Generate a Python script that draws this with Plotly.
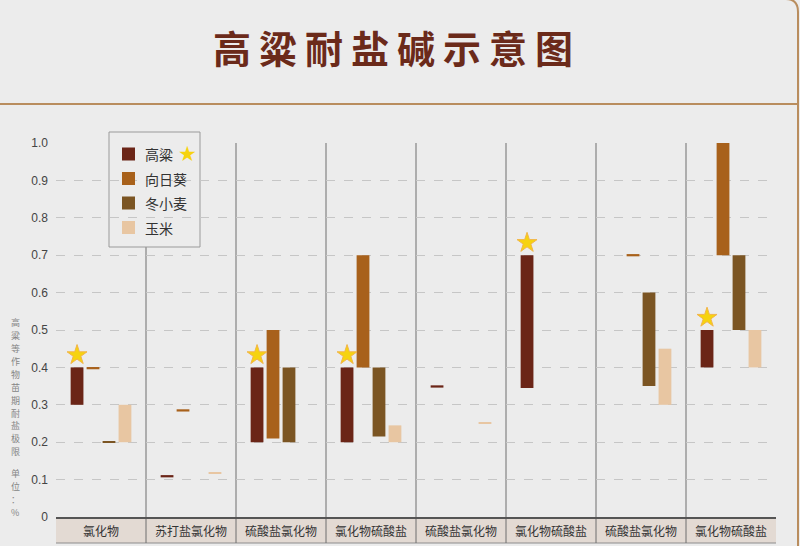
import plotly.graph_objects as go

# ---------------- data ----------------
categories = ["氯化物", "苏打盐氯化物", "硫酸盐氯化物", "氯化物硫酸盐",
              "硫酸盐氯化物", "氯化物硫酸盐", "硫酸盐氯化物", "氯化物硫酸盐"]
series_names = ["高粱", "向日葵", "冬小麦", "玉米"]

sorghum_low = [0.30, 0.106, 0.20, 0.20, 0.346, 0.345, None, 0.40]
sorghum_high = [0.40, 0.112, 0.40, 0.40, 0.352, 0.70, None, 0.50]
sunflower_low = [0.395, 0.282, 0.21, 0.40, None, None, 0.697, 0.70]
sunflower_high = [0.401, 0.288, 0.50, 0.70, None, None, 0.703, 1.00]
wheat_low = [0.198, None, 0.20, 0.215, None, None, 0.35, 0.50]
wheat_high = [0.203, None, 0.40, 0.40, None, None, 0.60, 0.70]
corn_low = [0.20, 0.115, None, 0.20, 0.249, None, 0.30, 0.40]
corn_high = [0.30, 0.120, None, 0.245, 0.254, None, 0.45, 0.50]

star_categories = [0, 2, 3, 5, 7]   # sorghum bars marked with a star

y_tickvals = [0, 0.1, 0.2, 0.3, 0.4, 0.5, 0.6, 0.7, 0.8, 0.9, 1.0]
y_ticktext = ["0", "0.1", "0.2", "0.3", "0.4", "0.5", "0.6", "0.7", "0.8", "0.9", "1.0"]

title_text = "高粱耐盐碱示意图"
ylabel_main = "高粱等作物苗期耐盐极限"
ylabel_unit = "单位：%"

# ---------------- style ----------------
colors = ["#6b2517", "#a8611b", "#7b5523", "#e8c6a2"]
BG = "#ececec"
TAN = "#b98d5e"
BARGAP = 0.29
GROUPGAP = 0.2

W, H = 800, 546
L, R, T, B = 56, 24, 143, 29
PW, PH = W - L - R, H - T - B


def px(xp):
    return (xp - L) / PW


def py(yp):
    return (H - B - yp) / PH


def span(lo, hi):
    return [None if a is None else round(b - a, 4) for a, b in zip(lo, hi)]


lows = [sorghum_low, sunflower_low, wheat_low, corn_low]
highs = [sorghum_high, sunflower_high, wheat_high, corn_high]
xs = list(range(len(categories)))

fig = go.Figure()
for name, lo, hi, col in zip(series_names, lows, highs, colors):
    fig.add_trace(go.Bar(
        name=name, x=xs, y=span(lo, hi), base=lo,
        marker=dict(color=col, line=dict(width=0)),
        showlegend=False,
    ))

# stars above selected sorghum bars
slot = (1 - BARGAP) / len(series_names)
star_x = [i - 1.5 * slot for i in star_categories]
star_y = [sorghum_high[i] + 0.033 for i in star_categories]
fig.add_trace(go.Scatter(
    x=star_x, y=star_y, mode="markers", showlegend=False, hoverinfo="skip",
    marker=dict(symbol="star", size=15, color="#f6d30f",
                line=dict(color="#f2b548", width=1)),
))

shapes = [
    # category label band
    dict(type="rect", xref="paper", yref="paper", x0=0, x1=1, y0=py(543), y1=0,
         fillcolor="#e3dad3", line=dict(width=0), layer="below"),
    dict(type="line", xref="paper", yref="paper", x0=0, x1=1, y0=py(543), y1=py(543),
         line=dict(color="#8c8c8c", width=1), layer="below"),
    # header rule
    dict(type="line", xref="paper", yref="paper", x0=px(0), x1=px(798), y0=py(104), y1=py(104),
         line=dict(color=TAN, width=2)),
    # right frame with rounded corner
    dict(type="path", xref="paper", yref="paper",
         path=f"M {px(786)},{py(-1)} Q {px(798)},{py(-1)} {px(798)},{py(12)} L {px(798)},{py(548)}",
         line=dict(color=TAN, width=2)),
]
for k in range(1, len(categories)):
    shapes.append(dict(type="line", xref="x", yref="paper", x0=k - 0.5, x1=k - 0.5,
                       y0=py(543), y1=1, line=dict(color="#6e6e6e", width=1), layer="between"))

# legend box (drawn over gridlines / separator)
LEG_X0, LEG_X1, LEG_Y0, LEG_Y1 = 109, 200, 132, 247
legend_rows = [154, 178.5, 203, 227.5]
shapes.append(dict(type="rect", xref="paper", yref="paper",
                   x0=px(LEG_X0), x1=px(LEG_X1), y0=py(LEG_Y1), y1=py(LEG_Y0),
                   fillcolor=BG, line=dict(color="#9a9a9a", width=1), layer="between"))

annotations = []
for name, col, ry in zip(series_names, colors, legend_rows):
    shapes.append(dict(type="rect", xref="paper", yref="paper",
                       x0=px(122), x1=px(135), y0=py(ry + 6.5), y1=py(ry - 6.5),
                       fillcolor=col, line=dict(width=0), layer="above"))
    annotations.append(dict(text=name, xref="paper", yref="paper", x=px(143), y=py(ry),
                            xanchor="left", yanchor="middle", showarrow=False,
                            font=dict(size=14, color="#333", family="Noto Sans CJK SC")))
# star next to the sorghum legend entry
annotations.append(dict(text="★", xref="paper", yref="paper", x=px(187), y=py(legend_rows[0]),
                        xanchor="center", yanchor="middle", showarrow=False,
                        font=dict(size=21, color="#f6d30f", family="DejaVu Sans")))

# vertical y-axis label, one glyph per line
for i, ch in enumerate(ylabel_main):
    annotations.append(dict(text=ch, xref="paper", yref="paper", x=px(15), y=py(322.7 + 12.9 * i),
                            xanchor="center", yanchor="middle", showarrow=False,
                            font=dict(size=9, color="#858585", family="Noto Sans CJK SC")))
for i, ch in enumerate(ylabel_unit):
    annotations.append(dict(text=ch, xref="paper", yref="paper", x=px(15), y=py(473.5 + 12.9 * i),
                            xanchor="center", yanchor="middle", showarrow=False,
                            font=dict(size=9, color="#858585", family="Noto Sans CJK SC")))

fig.update_layout(
    width=W, height=H, autosize=False,
    margin=dict(l=L, r=R, t=T, b=B, pad=0),
    paper_bgcolor=BG, plot_bgcolor=BG,
    font=dict(family="Liberation Sans, Noto Sans CJK SC", size=12, color="#333"),
    title=dict(text=f"<span style='letter-spacing:8px'>{title_text}</span>",
               x=397 / W, y=1 - 50 / H, xanchor="center", yanchor="middle",
               font=dict(family="Noto Sans CJK SC", size=38, color="#6b2a1a", weight="bold")),
    barmode="group", bargap=BARGAP, bargroupgap=GROUPGAP,
    showlegend=False,
    xaxis=dict(range=[-0.5, len(categories) - 0.5], tickmode="array", tickvals=xs,
               ticktext=categories, showgrid=False, zeroline=False,
               showline=True, linecolor="#555", linewidth=1.5, ticks="",
               ticklabelstandoff=3, automargin=False,
               tickfont=dict(family="Noto Sans CJK SC", size=12, color="#333")),
    yaxis=dict(range=[0, 1.0], tickmode="array", tickvals=y_tickvals, ticktext=y_ticktext,
               showgrid=True, gridcolor="#c6c6c6", griddash="dash", gridwidth=1,
               zeroline=False, showline=False, ticks="", ticklabelstandoff=7,
               automargin=False,
               tickfont=dict(family="Liberation Sans", size=12, color="#444")),
    shapes=shapes, annotations=annotations,
)

fig.write_html("out.html", config={"displayModeBar": False},
               post_script="document.body.style.margin='0';")
